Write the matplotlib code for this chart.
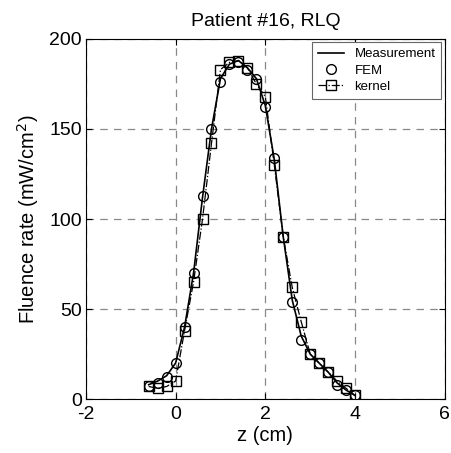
import matplotlib
matplotlib.use("Agg")
import matplotlib.pyplot as plt

plt.rcParams["font.family"] = ["Liberation Sans", "DejaVu Sans"]
plt.rcParams["axes.unicode_minus"] = False

# depth along the probe track (cm)
z = [-0.6, -0.4, -0.2, 0.0, 0.2, 0.4, 0.6, 0.8, 1.0, 1.2, 1.4, 1.6,
     1.8, 2.0, 2.2, 2.4, 2.6, 2.8, 3.0, 3.2, 3.4, 3.6, 3.8, 4.0]

# fluence rate (mW/cm^2)
measurement = [8, 10, 13, 20, 40, 70, 112, 150, 178, 186, 188, 184,
               178, 163, 133, 90, 55, 35, 25, 20, 15, 9, 5, 2]
fem = [7, 9, 12, 20, 40, 70, 113, 150, 176, 186, 187, 183,
       178, 162, 134, 90, 54, 33, 25, 20, 15, 8, 5, 2]
kernel = [7, 6, 7, 10, 38, 65, 100, 142, 183, 187, 188, 184,
          175, 168, 130, 90, 62, 43, 25, 20, 15, 10, 6, 2]

fig = plt.figure(figsize=(4.52, 4.53), dpi=100)
ax = fig.add_axes([0.190, 0.119, 0.794, 0.795])

ax.plot(z, measurement, "-", color="black", linewidth=1.2, label="Measurement")
ax.plot(z, fem, "o", color="black", markerfacecolor="none", markersize=7,
        markeredgewidth=1.0, label="FEM")
ax.plot(z, kernel, "-.", color="black", marker="s", markerfacecolor="none",
        markersize=7, markeredgewidth=1.0, linewidth=0.9, label="kernel")

ax.set_xlim(-2, 6)
ax.set_ylim(0, 200)
ax.set_xticks([-2, 0, 2, 4, 6])
ax.set_yticks([0, 50, 100, 150, 200])
ax.tick_params(direction="in", labelsize=14, length=4, top=True, right=True)
ax.tick_params(axis="x", pad=5)
ax.tick_params(axis="y", pad=3)
ax.grid(True, linestyle=(0, (6, 5)), color="#888888", linewidth=0.9)

ax.set_xlabel("z (cm)", fontsize=14.5, labelpad=2)
ax.set_ylabel("Fluence rate (mW/cm$^2$)", fontsize=14.5, labelpad=6)
ax.set_title("Patient #16, RLQ", fontsize=14, pad=9)

leg = ax.legend(loc="upper right", fontsize=9.5, fancybox=False,
                edgecolor="#666666", framealpha=1.0, handlelength=2.0,
                borderaxespad=0.25, labelspacing=0.3, borderpad=0.45)
leg.get_frame().set_linewidth(0.8)

fig.savefig("out.png", dpi=100)
